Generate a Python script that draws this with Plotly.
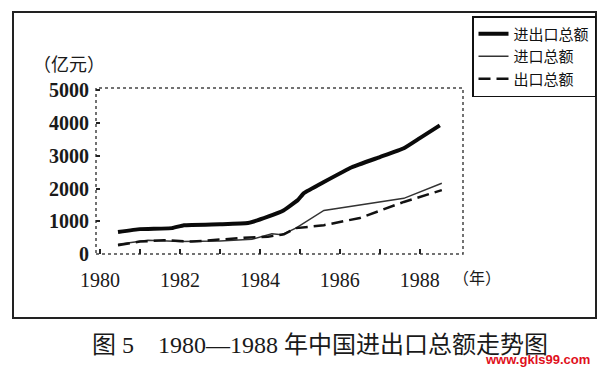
import plotly.graph_objects as go

# ---- data ----
years_total = [1980.45, 1981.0, 1981.8, 1982.1, 1983.0, 1983.7, 1984.2, 1984.6, 1984.95,
               1985.1, 1985.6, 1986.3, 1987.0, 1987.6, 1988.0, 1988.5]
total_values = [670, 760, 790, 880, 910, 945, 1140, 1340, 1650,
                1860, 2200, 2650, 2960, 3230, 3540, 3930]

years_import = [1980.45, 1981.2, 1982.0, 1983.0, 1983.8, 1984.0, 1984.3, 1984.55, 1984.9,
                1985.6, 1987.6, 1988.55]
import_values = [300, 420, 380, 400, 450, 520, 620, 590, 790,
                 1330, 1700, 2160]

years_export = [1980.45, 1981.0, 1981.6, 1982.3, 1983.0, 1983.6, 1984.2, 1984.6, 1984.9,
                1985.1, 1985.6, 1986.5, 1987.6, 1988.55]
export_values = [270, 380, 420, 380, 440, 500, 530, 600, 790,
                 820, 880, 1100, 1590, 1950]

series_names = ["进出口总额", "进口总额", "出口总额"]
x_tick_vals = [1980, 1981, 1982, 1983, 1984, 1985, 1986, 1987, 1988]
x_tick_text = ["1980", "", "1982", "", "1984", "", "1986", "", "1988"]
y_tick_vals = [0, 1000, 2000, 3000, 4000, 5000]
y_unit = "（亿元）"
x_unit = "（年）"
caption = "图 5　1980—1988 年中国进出口总额走势图"
watermark = "www.gkls99.com"

# ---- layout geometry (pixels) ----
W, H = 609, 371
L, R, T, B = 96, 463, 88, 254
pw, ph = R - L, B - T


def px(x):
    return (x - L) / pw


def py(y):
    return (B - y) / ph


serif = "Liberation Serif, Times New Roman, Noto Sans CJK SC, serif"
cjk = "Noto Sans CJK SC, sans-serif"

fig = go.Figure()
fig.add_trace(go.Scatter(x=years_total, y=total_values, mode="lines", name=series_names[0],
                         line=dict(color="#0a0a0a", width=4, shape="spline", smoothing=0.3)))
fig.add_trace(go.Scatter(x=years_import, y=import_values, mode="lines", name=series_names[1],
                         line=dict(color="#333333", width=1.5)))
fig.add_trace(go.Scatter(x=years_export, y=export_values, mode="lines", name=series_names[2],
                         line=dict(color="#111111", width=2.5, dash="12px,6px")))

fig.update_layout(
    width=W, height=H,
    margin=dict(l=L, r=W - R, t=T, b=H - B),
    paper_bgcolor="white", plot_bgcolor="white",
    showlegend=True,
    legend=dict(
        x=px(472), y=py(16), xanchor="left", yanchor="top",
        bordercolor="#111111", borderwidth=1.5, bgcolor="white",
        font=dict(family=cjk, size=15, color="#111111"),
        itemwidth=30, tracegroupgap=0,
    ),
    xaxis=dict(
        range=[1979.9, 1989.08], tickmode="array", tickvals=x_tick_vals, ticktext=x_tick_text,
        ticks="inside", ticklen=5, tickcolor="#222", tickwidth=1.5,
        showgrid=False, zeroline=False, showline=False,
        tickfont=dict(family=serif, size=20, color="#1a1a1a"),
        ticklabelstandoff=12,
    ),
    yaxis=dict(
        range=[0, 5070], tickmode="array", tickvals=y_tick_vals,
        ticks="inside", ticklen=4, tickcolor="#222", tickwidth=1.5,
        showgrid=False, zeroline=False, showline=False,
        tickfont=dict(family=serif, size=20, color="#1a1a1a", weight="bold"),
        ticklabelstandoff=6,
    ),
    shapes=[
        # dotted plot frame
        dict(type="rect", xref="paper", yref="paper", x0=0, y0=0, x1=1, y1=1,
             line=dict(color="#444444", width=1.5, dash="dot"), layer="below"),
        # outer figure frame
        dict(type="rect", xref="paper", yref="paper", x0=px(13), y0=py(318), x1=px(596), y1=py(12),
             line=dict(color="#222222", width=2)),
    ],
    annotations=[
        dict(text=y_unit, xref="paper", yref="paper", x=px(69), y=py(63),
             xanchor="center", yanchor="middle", showarrow=False,
             font=dict(family=cjk, size=18, color="#1a1a1a")),
        dict(text=x_unit, xref="paper", yref="paper", x=px(477), y=py(277),
             xanchor="center", yanchor="middle", showarrow=False,
             font=dict(family=cjk, size=16, color="#1a1a1a")),
        dict(text=caption, xref="paper", yref="paper", x=px(320), y=py(345),
             xanchor="center", yanchor="middle", showarrow=False,
             font=dict(family=serif, size=24, color="#1a1a1a")),
        dict(text=watermark, xref="paper", yref="paper", x=px(537), y=py(359),
             xanchor="center", yanchor="middle", showarrow=False,
             font=dict(family="Liberation Sans, Arial, sans-serif", size=13, color="#e0101c",
                       weight="bold")),
    ],
)

fig.write_html("out.html", config={"displayModeBar": False},
               post_script="document.body.style.margin='0';")
